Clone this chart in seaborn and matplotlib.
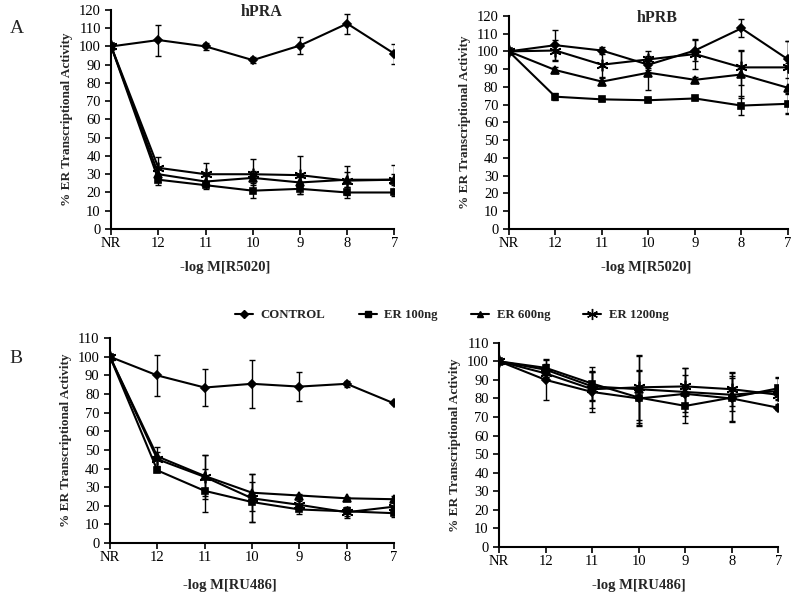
import numpy as np
import pandas as pd
import matplotlib
matplotlib.use("Agg")
import matplotlib.pyplot as plt
import seaborn as sns

# eixo x comum
doses = ["NR", "12", "11", "10", "9", "8", "7"]
series = ["CONTROL", "ER 100ng", "ER 600ng", "ER 1200ng"]

# painel A - hPRA (R5020)
a1_control = [100, 103.5, 100, 92.5, 100.5, 112.5, 96]
a1_er100 = [100, 27, 24, 21, 22, 20, 20]
a1_er600 = [100, 30, 26, 28, 25.5, 27, 27]
a1_er1200 = [100, 33.5, 30, 30, 29.5, 26.5, 27]
a1_control_err = [1, 8.5, 2, 1.5, 4.5, 5.5, 5.5]
a1_er100_err = [1, 3, 2, 4, 3, 3, 2]
a1_er600_err = [1, 4, 3, 4, 3, 4, 3]
a1_er1200_err = [1, 6, 6, 8.5, 10.5, 8, 8]

# painel A - hPRB (R5020)
a2_control = [100, 103.5, 100.5, 92.5, 100.5, 113, 95.5]
a2_er100 = [100, 74.5, 73, 72.5, 73.5, 69.5, 70.5]
a2_er600 = [100, 89.5, 83, 88, 84, 87, 79.5]
a2_er1200 = [100, 100.5, 92.5, 95.5, 98.5, 91, 91]
a2_control_err = [1, 8.5, 2, 3, 6, 5, 10.5]
a2_er100_err = [1, 2, 1, 1, 1, 5.5, 6]
a2_er600_err = [1, 1.5, 2, 9.5, 1.5, 13, 14]
a2_er1200_err = [1, 6, 7, 5, 8.5, 10, 15]

# painel B - hPRA (RU486)
b1_control = [100, 90, 83.5, 85.5, 84, 85.5, 75]
b1_er100 = [100, 39, 28, 22, 18, 17, 16]
b1_er600 = [100, 46.5, 36, 27, 25.5, 24, 23.5]
b1_er1200 = [100, 45, 35.5, 24, 20.5, 16.5, 19.5]
b1_control_err = [1, 11, 10, 13, 8, 1.5, 0.5]
b1_er100_err = [1, 1, 11.5, 11, 2.5, 2.5, 2]
b1_er600_err = [1, 5, 11, 10, 1, 0.5, 2]
b1_er1200_err = [1, 4, 12, 13, 2, 3, 3]

# painel B - hPRB (RU486)
b2_control = [100, 90, 83.5, 80, 82.5, 80, 75]
b2_er100 = [100, 96.5, 88, 80.5, 76, 80.5, 85.5]
b2_er600 = [100, 95.5, 86.5, 85, 83.5, 82, 84]
b2_er1200 = [100, 93.5, 85, 86, 86.5, 85, 82]
b2_control_err = [1, 11, 11, 15, 10, 12, 1]
b2_er100_err = [1, 5, 9, 15, 9, 13, 6]
b2_er600_err = [1, 3, 8, 18, 13, 9, 7]
b2_er1200_err = [1, 2, 10, 17.5, 10, 9, 3]

marcadores = {"CONTROL": "D", "ER 100ng": "s", "ER 600ng": "^", "ER 1200ng": (6, 2, 0)}
tamanhos = {"CONTROL": 4, "ER 100ng": 4, "ER 600ng": 5, "ER 1200ng": 8}


def monta_df(vals, errs):
    linhas = []
    for nome, v, e in zip(series, vals, errs):
        for i, (yy, ee) in enumerate(zip(v, e)):
            linhas.append({"pos": i, "val": yy, "err": ee, "serie": nome})
    return pd.DataFrame(linhas)


sns.set_style("ticks")
plt.rcParams["font.family"] = ["Liberation Serif", "DejaVu Serif"]

W, H = 800, 597
fig = plt.figure(figsize=(8, 5.97), dpi=100)

# (retangulo, valores, erros, ymax, titulo, xlabel, posicao do xlabel em px)
paineis = [
    ([0.139, 0.6164, 0.354, 0.367], [a1_control, a1_er100, a1_er600, a1_er1200],
     [a1_control_err, a1_er100_err, a1_er600_err, a1_er1200_err], 120, "hPRA", "-log M[R5020]", (225, 267)),
    ([0.636, 0.6164, 0.349, 0.357], [a2_control, a2_er100, a2_er600, a2_er1200],
     [a2_control_err, a2_er100_err, a2_er600_err, a2_er1200_err], 120, "hPRB", "-log M[R5020]", (646, 268)),
    ([0.1375, 0.0905, 0.355, 0.343], [b1_control, b1_er100, b1_er600, b1_er1200],
     [b1_control_err, b1_er100_err, b1_er600_err, b1_er1200_err], 110, None, "-log M[RU486]", (230, 585)),
    ([0.624, 0.0838, 0.349, 0.342], [b2_control, b2_er100, b2_er600, b2_er1200],
     [b2_control_err, b2_er100_err, b2_er600_err, b2_er1200_err], 110, None, "-log M[RU486]", (639, 586)),
]

for rect, vals, errs, ymax, titulo, xlab, xy in paineis:
    ax = fig.add_axes(rect)
    df = monta_df(vals, errs)
    for nome in series:
        sub = df[df["serie"] == nome]
        ax.errorbar(sub["pos"], sub["val"], yerr=sub["err"], fmt="none",
                    ecolor="black", elinewidth=1.0, capsize=2.5, capthick=1.0)
        sns.lineplot(data=sub, x="pos", y="val", color="black", linewidth=1.5,
                     marker=marcadores[nome], markersize=tamanhos[nome] + 0.5,
                     markeredgecolor="black", markerfacecolor="black",
                     markeredgewidth=1.2, ax=ax)
    ax.set_xlim(0, 6)
    ax.set_ylim(0, ymax)
    ax.set_xticks(range(len(doses)))
    ax.set_xticklabels(doses)
    ax.set_yticks(range(0, ymax + 1, 10))
    ax.tick_params(direction="out", length=4, width=1.2, labelsize=10.5, colors="black")
    ax.tick_params(axis="x", pad=2)
    for s in ["top", "right"]:
        ax.spines[s].set_visible(False)
    for s in ["left", "bottom"]:
        ax.spines[s].set_linewidth(1.5)
        ax.spines[s].set_color("black")
    ax.set_ylabel("% ER Transcriptional Activity", fontsize=9.5, fontweight="bold")
    ax.set_xlabel("")
    fig.text(xy[0] / W, 1 - xy[1] / H, xlab, ha="center", va="center",
             fontsize=10.5, fontweight="bold")
    if titulo:
        ax.text(0.53, 0.99, titulo, transform=ax.transAxes, ha="center", va="center",
                fontsize=11.5, fontweight="bold")

fig.text(0.012, 0.945, "A", fontsize=14)
fig.text(0.012, 0.392, "B", fontsize=14)

# legenda comum
handles = [plt.Line2D([0], [0], color="black", lw=1.5, marker=marcadores[n],
                      markersize=tamanhos[n], markerfacecolor="black",
                      markeredgecolor="black") for n in series]
fig.legend(handles, series, loc="center", bbox_to_anchor=(0.565, 0.472), ncol=4,
           frameon=False, handlelength=1.4, handletextpad=0.6, columnspacing=2.6,
           prop={"family": "Liberation Serif", "weight": "bold", "size": 9.2})

fig.savefig("out.png", dpi=100)
